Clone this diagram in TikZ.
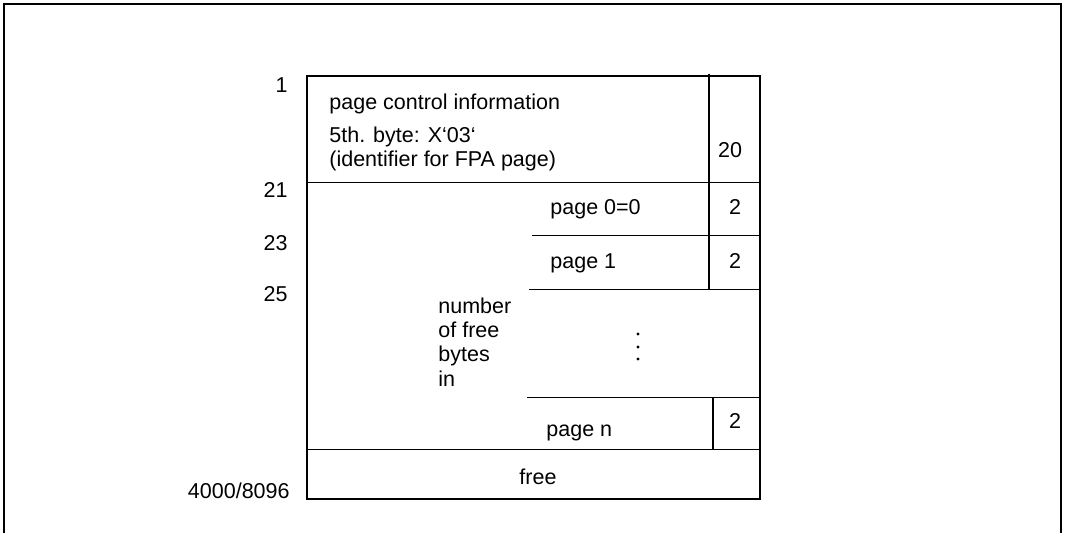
\documentclass[tikz,border=0pt]{standalone}
\usepackage{fontspec}
\setmainfont{Liberation Sans}
\begin{document}
\begin{tikzpicture}[x=0.5pt,y=-0.5pt,
  frameline/.style={line width=0.55pt},
  boxline/.style={line width=1pt},
  sepline/.style={line width=0.55pt},
  lbl/.style={inner sep=0pt, font=\fontsize{10.75pt}{12pt}\selectfont}]
\useasboundingbox (0,0) rectangle (1067,533);
% outer frame (open at the bottom)
\draw[frameline] (4,533) -- (4,4) -- (1061,4) -- (1061,533);
% main box
\draw[boxline] (306.5,76.5) rectangle (759.5,499.5);
% vertical separators
\draw[boxline] (709,74) -- (709,289);
\draw[boxline] (713,397) -- (713,449);
% horizontal lines
\draw[sepline] (306.5,182.5) -- (759.5,182.5);
\draw[sepline] (532,235.5) -- (759.5,235.5);
\draw[sepline] (529,289.5) -- (759.5,289.5);
\draw[sepline] (527,397.5) -- (759.5,397.5);
\draw[sepline] (307,449.5) -- (759.5,449.5);
% offsets on the left
\node[lbl, anchor=base east] (o1) at (288,93) {1};
\node[lbl, anchor=base east] (o21) at (288,198) {21};
\node[lbl, anchor=base east] (o23) at (288,251) {23};
\node[lbl, anchor=base east] (o25) at (288,302) {25};
\node[lbl, anchor=base east] (oend) at (290,499) {4000/8096};
% header text
\node[lbl, anchor=base west] (pci) at (329,110) {page control information};
\node[lbl, anchor=base west] (b5) at (329,143) {5th. byte: X‘03‘};
\node[lbl, anchor=base west] (ident) at (329,167) {(identifier for FPA page)};
\node[lbl, anchor=base] (l20) at (730,158) {20};
% entries
\node[lbl, anchor=base west] (p0) at (550,215) {page 0=0};
\node[lbl, anchor=base] (s0) at (735,215) {2};
\node[lbl, anchor=base west] (p1) at (550,269) {page 1};
\node[lbl, anchor=base] (s1) at (735,269) {2};
\node[lbl, anchor=base west] (pn) at (546,437) {page n};
\node[lbl, anchor=base] (sn) at (735,429) {2};
\node[lbl, anchor=base] (free) at (538,485) {free};
% number of free bytes in
\node[lbl, anchor=base west] (n1) at (438,314) {number};
\node[lbl, anchor=base west] (n2) at (438,338) {of free};
\node[lbl, anchor=base west] (n3) at (438,362) {bytes};
\node[lbl, anchor=base west] (n4) at (438,387) {in};
% vertical dots
\fill (638,334) circle (1.6);
\fill (638,347) circle (1.6);
\fill (638,359) circle (1.6);
\end{tikzpicture}
\end{document}
